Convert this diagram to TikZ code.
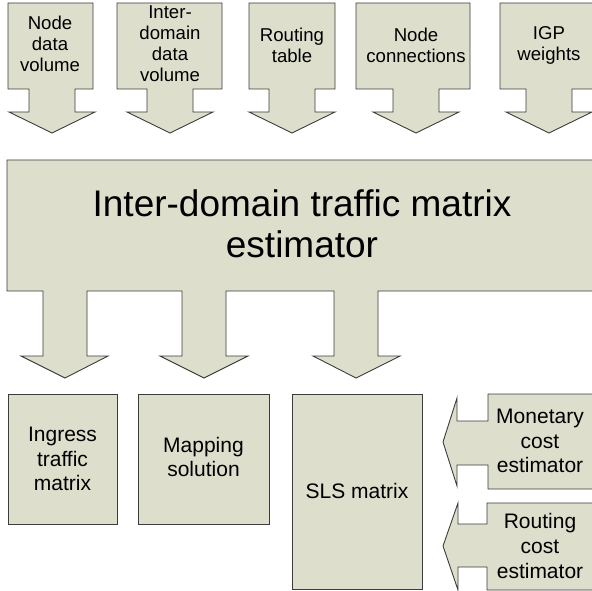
\documentclass[tikz,border=0pt]{standalone}
\usepackage{fontspec}
\setmainfont{Liberation Sans}
\definecolor{boxfill}{RGB}{221,223,204}
\definecolor{boxline}{RGB}{60,60,60}
\begin{document}
\begin{tikzpicture}[x=1pt,y=-1pt,
  blockshape/.style={fill=boxfill,draw=boxline,line width=0.9pt,line join=miter},
  lbl/.style={align=center,inner sep=0pt,font=\fontsize{18.6}{21}\selectfont},
  lblb/.style={align=center,inner sep=0pt,font=\fontsize{21}{24.6}\selectfont},
  lblbig/.style={align=center,inner sep=0pt,font=\fontsize{37}{41}\selectfont}]
\useasboundingbox (0,0) rectangle (592,591);

% downward input callouts: box from L to R, arrow centred on c
\foreach \L/\R/\c in {8/93/52, 117/222/170, 249/335/292, 356/470/416, 500/597/549}{
  \draw[blockshape] (\L,3) -- (\R,3) -- (\R,89) -- (\c+23,89) -- (\c+23,112)
    -- (\c+43,112) -- (\c,133) -- (\c-43,112) -- (\c-23,112) -- (\c-23,89)
    -- (\L,89) -- cycle;
}
\node[lbl] (in1) at (50,44) {Node\\data\\volume};
\node[lbl] (in2) at (170,44) {Inter-\\domain\\data\\volume};
\node[lbl] (in3) at (292,45) {Routing\\table};
\node[lbl] (in4) at (416,45) {Node\\connections};
\node[lbl] (in5) at (549,45) {IGP\\weights};

% estimator block with three output arrows
\draw[blockshape] (7,160) -- (597,160) -- (597,291)
  -- (378,291) -- (378,356) -- (400,356) -- (356,378) -- (313,356) -- (334,356) -- (334,291)
  -- (226,291) -- (226,356) -- (248,356) -- (204,378) -- (160,356) -- (182,356) -- (182,291)
  -- (87,291) -- (87,356) -- (108,356) -- (65,378) -- (21,356) -- (43,356) -- (43,291)
  -- (7,291) -- cycle;
\node[lblbig] (est) at (302,224) {Inter-domain traffic matrix\\estimator};

% output blocks
\draw[blockshape] (8,394) rectangle (117,524);
\draw[blockshape] (138,394) rectangle (269,524);
\draw[blockshape] (292,394) rectangle (422,589);
\node[lblb] (out1) at (62.5,459) {Ingress\\traffic\\matrix};
\node[lblb] (out2) at (203.5,457) {Mapping\\solution};
\node[lblb] (out3) at (357,491) {SLS matrix};

% left-pointing cost callouts
\draw[blockshape] (597,394) -- (488,394) -- (488,421) -- (457,421) -- (457,398) -- (443,442)
  -- (457,486) -- (457,465) -- (488,465) -- (488,489) -- (597,489) -- cycle;
\draw[blockshape] (597,503) -- (487,503) -- (487,524) -- (458,524) -- (458,503) -- (443,546)
  -- (458,590) -- (458,567) -- (487,567) -- (487,590) -- (597,590) -- cycle;
\node[lblb] (cost1) at (540,441) {Monetary\\cost\\estimator};
\node[lblb] (cost2) at (540,546) {Routing\\cost\\estimator};
\end{tikzpicture}
\end{document}
